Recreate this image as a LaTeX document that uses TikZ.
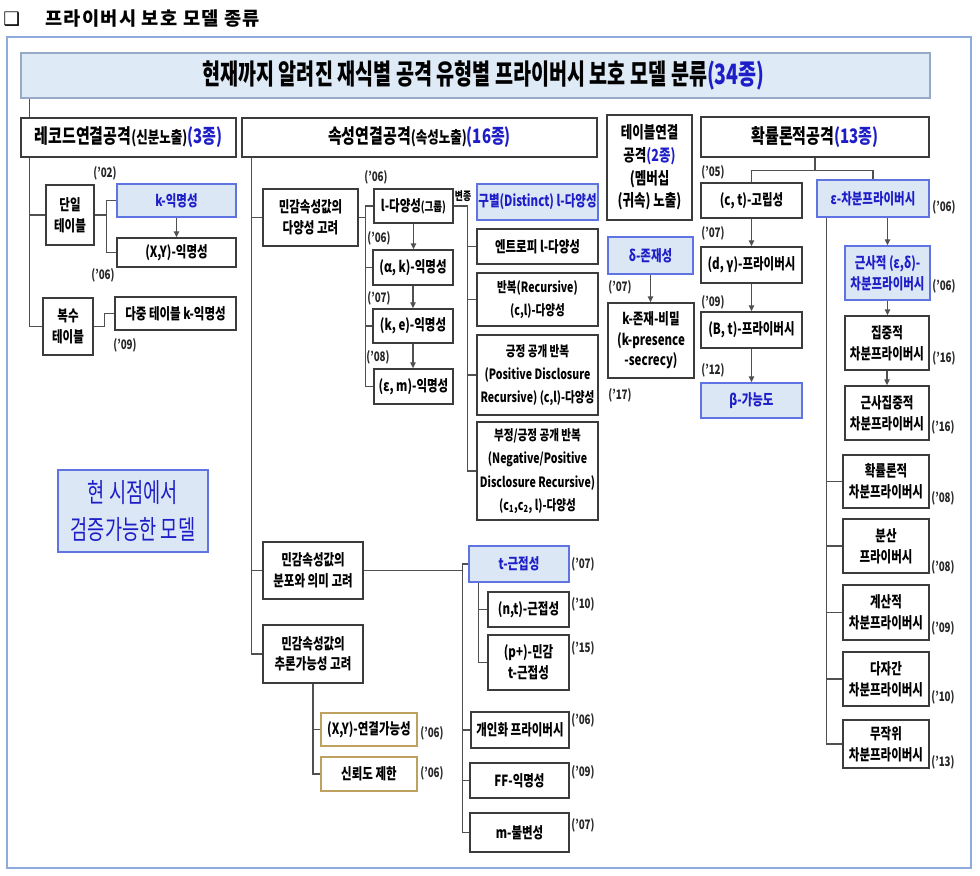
\documentclass[tikz,border=0pt]{standalone}
\usepackage{fontspec}
\setmainfont{Noto Sans CJK KR}[FakeStretch=0.75]
\newfontfamily\krcond{Noto Sans CJK KR}[FakeStretch=0.70]
\newfontfamily\krhead{Noto Sans CJK KR}[LetterSpace=7]
\newfontfamily\dejavu{DejaVu Sans}
\usetikzlibrary{calc,arrows.meta,backgrounds}
\definecolor{lnC}{RGB}{80,80,80}
\definecolor{bdC}{RGB}{60,60,60}
\definecolor{bfill}{RGB}{220,231,246}
\definecolor{bbord}{RGB}{95,115,225}
\definecolor{btxt}{RGB}{30,30,200}
\definecolor{banfill}{RGB}{222,234,246}
\definecolor{banbord}{RGB}{150,170,200}
\definecolor{frameC}{RGB}{143,170,220}
\definecolor{goldC}{RGB}{190,160,95}
\newcommand\smtxt[1]{{\fontsize{12.5pt}{14pt}\selectfont #1}}
\newcommand\tinytxt[1]{{\fontsize{9.5pt}{11pt}\selectfont #1}}
\newcommand\bltxt[1]{\textcolor{btxt}{#1}}
\tikzset{
 box/.style={draw=bdC, line width=1.1pt, fill=white, align=center, inner sep=0.5pt, text=black,
   font=\bfseries\fontsize{11.5pt}{15.5pt}\selectfont},
 bluebox/.style={fill=bfill, draw=bbord, text=btxt},
 goldbox/.style={draw=goldC},
 hbox/.style={font=\bfseries\fontsize{15pt}{17pt}\selectfont},
 tallbox/.style={font=\bfseries\fontsize{10.6pt}{17.5pt}\selectfont},
 conn/.style={draw=lnC, line width=1pt},
 arr/.style={conn, -{Triangle[length=4.5pt,width=4pt]}},
 yr/.style={font=\bfseries\fontsize{9.8pt}{11pt}\selectfont, inner sep=0pt, text=black!85},
}
% \bx[options]{name}{x1}{y1}{x2}{y2}{text}
\newcommand\bx[7][]{\node[box,#1,minimum width={(#5-#3)*0.75pt},minimum height={(#6-#4)*0.75pt}] (#2) at ({(#3+#5)/2},{(#4+#6)/2}) {#7};}
\newcommand\yr[3]{\node[yr] (y-#1-#2) at (#1,#2) {('#3)};}
\begin{document}
\begin{tikzpicture}[x=0.75pt,y=-0.75pt]
\useasboundingbox (0,0) rectangle (980,875);
% header
\node[anchor=west, inner sep=0] (hsq) at (3,19) {\dejavu\bfseries\fontsize{14pt}{14pt}\selectfont ❑};
\node[anchor=west, inner sep=0, font=\krhead\bfseries\fontsize{14pt}{15pt}\selectfont] (htxt) at (45,19) {프라이버시 보호 모델 종류};
% frame and banner
\bx[draw=frameC, fill=none, line width=1.2pt]{frame}{7}{37}{971}{868}{}
\bx[draw=banbord, fill=banfill, line width=1pt, font=\krcond\bfseries\fontsize{21pt}{24pt}\selectfont]{title}{21}{53}{930}{98}{\hspace*{12pt}현재까지 알려진 재식별 공격 유형별 프라이버시 보호 모델 분류\bltxt{(34종)}}
% category headers
\bx[hbox]{rec}{21}{118}{236}{157}{레코드연결공격\smtxt{(신분노출)}\bltxt{(3종)}}
\bx[hbox]{sok}{242}{118}{597}{157}{속성연결공격\smtxt{(속성노출)}\bltxt{(16종)}}
\bx[font=\bfseries\fontsize{12.5pt}{17pt}\selectfont]{tbl}{607}{115}{692}{220}{테이블연결\\공격\bltxt{(2종)}\\(멤버십\\(귀속) 노출)}
\bx[hbox]{prob}{701}{117}{929}{157}{확률론적공격\bltxt{(13종)}}
% record linkage
\bx{dan}{46}{185}{94}{245}{단일\\테이블}
\bx[bluebox]{kan}{117}{184}{236}{217}{k-익명성}
\bx{xya}{117}{238}{236}{267}{(X,Y)-익명성}
\bx{bok}{43}{298}{93}{355}{복수\\테이블}
\bx{mkan}{115}{297}{236}{330}{다중 테이블 k-익명성}
\bx[fill=bfill, draw=bbord, text=btxt, font=\krcond\fontsize{20pt}{27.5pt}\selectfont]{valid}{58}{470}{208}{552}{현 시점에서\\검증가능한 모델}
% attribute linkage
\bx{div}{263}{189}{358}{246}{민감속성값의\\다양성 고려}
\bx{lg}{374}{189}{453}{223}{l-다양성\tinytxt{(그룹)}}
\bx{ak}{373}{250}{453}{285}{(α, k)-익명성}
\bx{ke}{373}{309}{453}{343}{(k, e)-익명성}
\bx{em}{374}{369}{453}{404}{(ε, m)-익명성}
\bx[bluebox]{dst}{477}{184}{598}{220}{구별(Distinct) l-다양성}
\bx{ent}{477}{229}{598}{264}{엔트로피 l-다양성}
\bx[tallbox]{rep}{477}{273}{598}{326}{반복(Recursive)\\(c,l)-다양성}
\bx[tallbox]{pos}{477}{335}{598}{415}{긍정 공개 반복\\(Positive Disclosure\\Recursive) (c,l)-다양성}
\bx[tallbox]{neg}{477}{422}{598}{520}{부정/긍정 공개 반복\\(Negative/Positive\\Disclosure Recursive)\\(c\textsubscript{1},c\textsubscript{2}, l)-다양성}
\bx{dsb}{263}{542}{363}{599}{민감속성값의\\분포와 의미 고려}
\bx[bluebox]{tc}{469}{546}{569}{582}{t-근접성}
\bx{nt}{488}{592}{569}{627}{(n,t)-근접성}
\bx{pp}{488}{635}{569}{690}{(p+)-민감\\t-근접성}
\bx{inf}{263}{625}{363}{683}{민감속성값의\\추론가능성 고려}
\bx[goldbox]{xyl}{321}{713}{417}{746}{(X,Y)-연결가능성}
\bx[goldbox]{conf}{321}{757}{417}{791}{신뢰도 제한}
\bx{per}{471}{712}{569}{748}{개인화 프라이버시}
\bx{ff}{470}{763}{569}{798}{FF-익명성}
\bx{mi}{470}{813}{569}{852}{m-불변성}
% table linkage
\bx[bluebox]{dlt}{608}{237}{693}{274}{δ-존재성}
\bx{kpr}{608}{303}{694}{378}{k-존재-비밀\\(k-presence\\-secrecy)}
% probabilistic
\bx{ct}{701}{183}{802}{218}{(c, t)-고립성}
\bx{dg}{701}{247}{802}{283}{(d, γ)-프라이버시}
\bx{bt}{701}{312}{802}{348}{(B, t)-프라이버시}
\bx[bluebox]{beta}{701}{383}{802}{418}{β-가능도}
\bx[bluebox]{eps}{817}{180}{929}{217}{ε-차분프라이버시}
\bx[bluebox]{apx}{845}{246}{930}{300}{근사적 (ε,δ)-\\차분프라이버시}
\bx{conc}{845}{316}{929}{370}{집중적\\차분프라이버시}
\bx{acon}{845}{386}{929}{440}{근사집중적\\차분프라이버시}
\bx{prd}{843}{455}{929}{508}{확률론적\\차분프라이버시}
\bx{dis}{843}{519}{929}{573}{분산\\프라이버시}
\bx{comp}{843}{585}{929}{640}{계산적\\차분프라이버시}
\bx{mpc}{843}{652}{929}{706}{다자간\\차분프라이버시}
\bx{rnd}{843}{720}{929}{768}{무작위\\차분프라이버시}
% variant label
\node[inner sep=0, font=\bfseries\fontsize{8.8pt}{10pt}\selectfont] (vj) at (463,196) {변종};
% years
\yr{105}{173}{02} \yr{103}{275}{06} \yr{125}{345}{09}
\yr{376}{177}{06} \yr{379}{238}{06} \yr{379}{298}{07} \yr{378}{357}{08}
\yr{583}{564}{07} \yr{583}{604}{10} \yr{583}{648}{15}
\yr{432}{733}{06} \yr{432}{773}{06}
\yr{583}{720}{06} \yr{583}{772}{09} \yr{583}{825}{07}
\yr{620}{287}{07} \yr{620}{395}{17}
\yr{713}{172}{05} \yr{713}{233}{07} \yr{713}{302}{09} \yr{713}{370}{12}
\yr{944}{207}{06} \yr{944}{286}{06} \yr{944}{358}{16} \yr{943}{427}{16}
\yr{943}{498}{08} \yr{943}{567}{08} \yr{943}{628}{09} \yr{943}{697}{10} \yr{943}{762}{13}
% connectors
\begin{pgfonlayer}{background}
\draw[conn] ($(title.south west)+(9,0)$) |- (dan.west);
\draw[conn] ($(title.south west)+(9,0)$) |- (bok.west);
\draw[conn] (dan.east) -- ++(12,0) |- (kan.west);
\draw[conn] (dan.east) -- ++(12,0) |- (xya.west);
\draw[arr] (kan.south) -- (kan.south |- xya.north);
\draw[conn] (bok.east) -- ++(11,0) |- (mkan.west);
\draw[conn] ($(sok.south west)+(10,0)$) |- (div.west);
\draw[conn] ($(sok.south west)+(10,0)$) |- (dsb.west);
\draw[conn] ($(sok.south west)+(10,0)$) |- (inf.west);
\draw[conn] (div.east) -- ++(7,0) |- (lg.west);
\draw[conn] (div.east) -- ++(7,0) |- (ak.west);
\draw[conn] (div.east) -- ++(7,0) |- (ke.west);
\draw[conn] (div.east) -- ++(7,0) |- (em.west);
\draw[arr] (lg.south) -- (lg.south |- ak.north);
\draw[arr] (ak.south) -- (ak.south |- ke.north);
\draw[arr] (ke.south) -- (ke.south |- em.north);
\draw[conn] (lg.east) -- ++(14,0) |- (ent.west);
\draw[conn] (lg.east) -- ++(14,0) |- (rep.west);
\draw[conn] (lg.east) -- ++(14,0) |- (pos.west);
\draw[conn] (lg.east) -- ++(14,0) |- (neg.west);
\draw[conn] (dsb.east) -- ++(99,0) |- (tc.west);
\draw[conn] (dsb.east) -- ++(99,0) |- (per.west);
\draw[conn] (dsb.east) -- ++(99,0) |- (ff.west);
\draw[conn] (dsb.east) -- ++(99,0) |- (mi.west);
\draw[conn] ($(tc.south west)+(10,0)$) |- (nt.west);
\draw[conn] ($(tc.south west)+(10,0)$) |- (pp.west);
\draw[conn] (inf.south) |- (xyl.west);
\draw[conn] (inf.south) |- (conf.west);
\draw[arr] (dlt.south) -- (dlt.south |- kpr.north);
\draw[conn] (prob.south) -- ++(0,13) -| (ct.north);
\draw[conn] (prob.south) -- ++(0,13) -| (eps.north);
\draw[arr] (ct.south) -- (ct.south |- dg.north);
\draw[arr] (dg.south) -- (dg.south |- bt.north);
\draw[arr] (bt.south) -- (bt.south |- beta.north);
\draw[arr] (eps.south -| apx.north) -- (apx.north);
\draw[arr] (apx.south) -- (apx.south |- conc.north);
\draw[arr] (conc.south) -- (conc.south |- acon.north);
\draw[conn] ($(eps.south west)+(10,0)$) |- (prd.west);
\draw[conn] ($(eps.south west)+(10,0)$) |- (dis.west);
\draw[conn] ($(eps.south west)+(10,0)$) |- (comp.west);
\draw[conn] ($(eps.south west)+(10,0)$) |- (mpc.west);
\draw[conn] ($(eps.south west)+(10,0)$) |- (rnd.west);
\end{pgfonlayer}
\end{tikzpicture}
\end{document}
